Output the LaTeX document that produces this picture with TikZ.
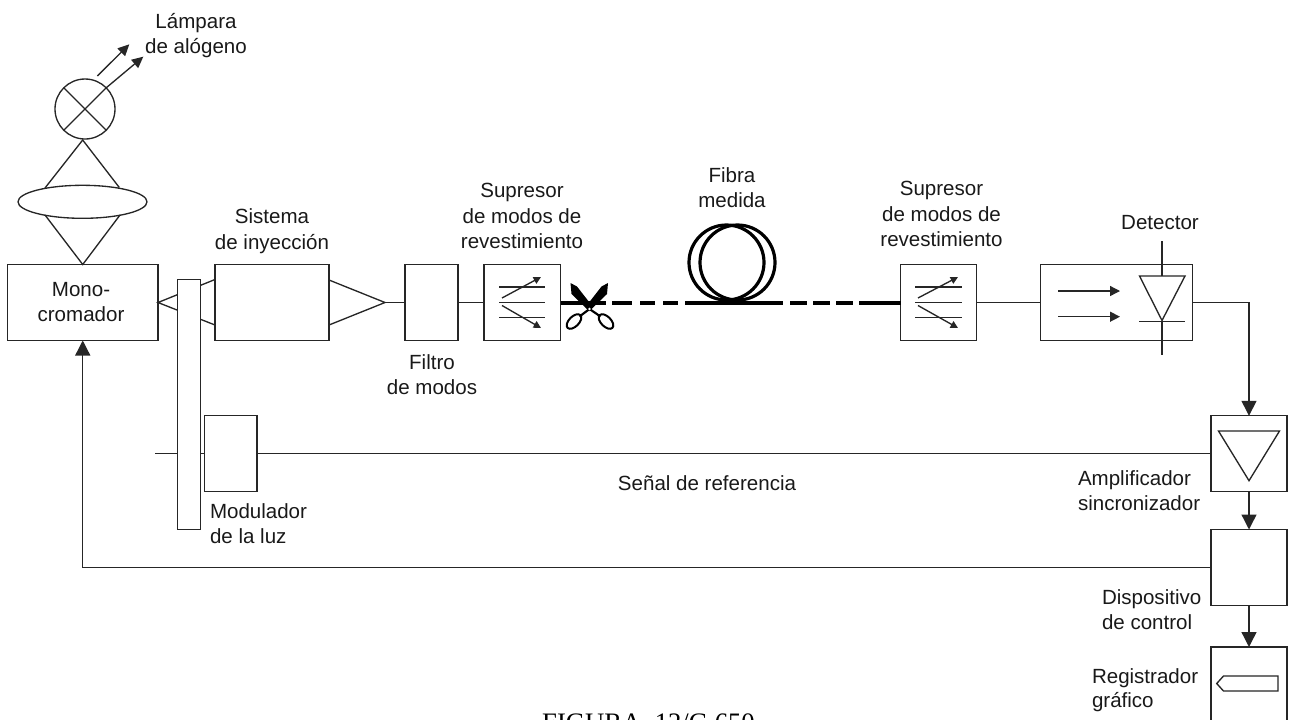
\documentclass[tikz,border=0pt]{standalone}
\usepackage{fontspec}
\setmainfont{Liberation Sans}
\newfontfamily\capfont{Liberation Serif}
\usetikzlibrary{arrows.meta,shapes.geometric}
\newcommand{\pxu}{0.75pt}
\tikzset{
  ln/.style={line width=1pt,black!85},
  boxn/.style 2 args={draw,ln,fill=white,rectangle,inner sep=0pt,outer sep=0pt,minimum width=#1*\pxu,minimum height=#2*\pxu},
  lbl/.style={inner sep=0pt,outer sep=0pt,font=\fontsize{15.4pt}{18.75pt}\selectfont,text=black!90},
  big/.style={ln,-{Triangle[length=11.25pt,width=11.25pt]}},
  mid/.style={ln,-{Triangle[length=8.5pt,width=8pt]}},
  small/.style={ln,-{Triangle[length=5.5pt,width=5.5pt]}},
  fibre/.style={line width=3pt,black},
  coilr/.style={line width=2.4pt,black},
}
\begin{document}
\begin{tikzpicture}[x=0.75pt,y=-0.75pt]
\useasboundingbox (0,0) rectangle (1292,719);
\clip (0,0) rectangle (1292,719);
% boxes
\node[boxn={150.5}{76}] (mono) at (82.75,302.5) {};
\node[boxn={114}{76}] (sis) at (272,302.5) {};
\node[boxn={53}{76}] (fil) at (431.5,302.5) {};
\node[boxn={76.5}{76}] (sup1) at (522.25,302.5) {};
\node[boxn={75.5}{76}] (sup2) at (938.5,302.5) {};
\node[boxn={152}{76}] (det) at (1116.7,302.5) {};
\node[boxn={76}{76}] (amp) at (1249,453.8) {};
\node[boxn={76}{76}] (ctrl) at (1249,567.5) {};
\node[boxn={76}{76}] (rec) at (1249,685) {};
\node[boxn={52.5}{76}] (mod) at (230.75,453.8) {};
% lamp and lens
\node[draw,ln,circle,inner sep=0pt,outer sep=0pt,minimum size=60*\pxu] (lamp) at (85,109) {};
\node[draw,ln,ellipse,inner sep=0pt,outer sep=0pt,minimum width=129*\pxu,minimum height=33*\pxu] (lens) at (82.5,201.8) {};
\draw[ln] (lamp.45) -- (lamp.225);
\draw[ln] (lamp.135) -- (lamp.315);
\coordinate (a1s) at (97.3,76); \coordinate (a1e) at (129.3,44.3);
\coordinate (a2e) at (143.3,56.7);
\draw[mid] (a1s) -- (a1e);
\draw[mid] (lamp.45) -- (a2e);
\coordinate (ap1) at (82.7,140);
\coordinate (tl) at (45,188); \coordinate (tr) at (119.3,187.5);
\coordinate (bl) at (45,215); \coordinate (br) at (120,215);
\draw[ln] (tl) -- (ap1) -- (tr);
\draw[ln] (bl) -- (mono.north) -- (br);
% mono to injection, behind chopper
\draw[ln] (sis.north west |- 0,279.5) -- (mono.east) -- (sis.south west |- 0,325);
% injection cone
\coordinate (ap2) at (385,302.5);
\draw[ln] (sis.north east |- 0,280) -- (ap2) -- (sis.south east |- 0,325);
\draw[ln] (ap2) -- (fil.west);
\draw[ln] (fil.east) -- (sup1.west);
\draw[ln] (sup2.east) -- (det.west);
% reference line and feedback
\coordinate (refs) at (155,453.8);
\draw[ln] (refs) -- (mod.west);
\draw[ln] (mod.east) -- (amp.west);
\node[boxn={23}{250}] (bar) at (189,404.5) {};
\draw[big] (ctrl.west) -| (mono.south);
\draw[big] (det.east) -| (amp.north);
\draw[big] (amp.south) -- (ctrl.north);
\draw[big] (ctrl.south) -- (rec.north);
% mode strippers
\foreach \n/\xa/\xb/\xs/\xt in {sup1/499/545/502/541,sup2/915/961.5/918/958}{
  \draw[ln] (\xa,287) -- (\xb,287);
  \draw[ln] (\xa,302.5) -- (\xb,302.5);
  \draw[ln] (\xa,317.7) -- (\xb,317.7);
  \draw[small] (\xs,298) -- (\xt,277);
  \draw[small] (\xs,305.5) -- (\xt,328);
}
% fibre
\coordinate (f1) at (606,302.5); \coordinate (f2) at (685,302.5);
\coordinate (f3) at (783,302.5); \coordinate (f4) at (859,302.5);
\draw[fibre] (sup1.east) -- (f1);
\draw[fibre] (612,302.5) -- (632,302.5);
\draw[fibre] (640,302.5) -- (655,302.5);
\draw[fibre] (663,302.5) -- (678,302.5);
\draw[fibre] (f2) -- (f3);
\draw[fibre] (790,302.5) -- (807,302.5);
\draw[fibre] (813,302.5) -- (829.5,302.5);
\draw[fibre] (836,302.5) -- (852.5,302.5);
\draw[fibre] (f4) -- (sup2.west);
\node[draw,coilr,circle,inner sep=0pt,outer sep=0pt,minimum size=75*\pxu] (c1) at (726.5,262.5) {};
\node[draw,coilr,circle,inner sep=0pt,outer sep=0pt,minimum size=75*\pxu] (c2) at (737.5,262.5) {};
% scissors
\fill[black] (570.5,283) -- (577,286.5) -- (593,307) -- (589,311) -- (571.5,294) -- cycle;
\fill[black] (608,283) -- (601.5,286.5) -- (585.5,307) -- (589.5,311) -- (607,294) -- cycle;
\draw[line width=1.5pt,black,rotate around={45:(574,321.5)}] (574,321.5) ellipse (9 and 5);
\draw[line width=1.5pt,black,rotate around={-45:(606,321.5)}] (606,321.5) ellipse (9 and 5);
\draw[line width=1.6pt,black] (589.5,309) -- (600.5,316.5);
\draw[line width=1.6pt,black] (589.5,309) -- (579.5,316.5);
\fill[white] (589.5,309) circle (1.3);
% detector
\coordinate (dt) at (1162,241); \coordinate (db) at (1162,355);
\coordinate (dl) at (1139.5,276); \coordinate (dr) at (1185,276); \coordinate (da) at (1162,320.5);
\draw[ln] (dt) -- (1162,276);
\draw[ln] (dl) -- (dr) -- (da) -- cycle;
\draw[ln] (1139,321.5) -- (1185,321.5);
\draw[ln] (1162,321.5) -- (db);
\coordinate (r1s) at (1058,291); \coordinate (r1e) at (1120,291);
\coordinate (r2s) at (1058,316.7); \coordinate (r2e) at (1120,316.7);
\draw[ln,-{Triangle[length=7.5pt,width=7.5pt]}] (r1s) -- (r1e);
\draw[ln,-{Triangle[length=7.5pt,width=7.5pt]}] (r2s) -- (r2e);
% amplifier symbol
\draw[ln] (1218.5,431) -- (1279.5,431) -- (1249,480.7) -- cycle;
% pen
\draw[ln] (1216.7,683.5) -- (1223.5,676) -- (1278,676) -- (1278,691) -- (1223.5,691) -- cycle;
% labels
\node[lbl,anchor=base] (t1) at (196,28) {Lámpara};
\node[lbl,anchor=base] (t2) at (196,53.5) {de alógeno};
\node[lbl,anchor=base] (t3) at (272,223) {Sistema};
\node[lbl,anchor=base] (t4) at (272,249) {de inyección};
\node[lbl,anchor=base] (t5) at (81,296) {Mono-};
\node[lbl,anchor=base] (t6) at (81,321) {cromador};
\node[lbl,anchor=base] (t7) at (522,197.5) {Supresor};
\node[lbl,anchor=base] (t8) at (522,223) {de modos de};
\node[lbl,anchor=base] (t9) at (522,248) {revestimiento};
\node[lbl,anchor=base] (t10) at (732,182) {Fibra};
\node[lbl,anchor=base] (t11) at (732,207) {medida};
\node[lbl,anchor=base] (t12) at (941.5,195.5) {Supresor};
\node[lbl,anchor=base] (t13) at (941.5,221) {de modos de};
\node[lbl,anchor=base] (t14) at (941.5,246) {revestimiento};
\node[lbl,anchor=base] (t15) at (1160,229) {Detector};
\node[lbl,anchor=base] (t16) at (432,369) {Filtro};
\node[lbl,anchor=base] (t17) at (432,394) {de modos};
\node[lbl,anchor=base west] (t18) at (210,518) {Modulador};
\node[lbl,anchor=base west] (t19) at (210,543) {de la luz};
\node[lbl,anchor=base] (t20) at (707,490) {Señal de referencia};
\node[lbl,anchor=base west] (t21) at (1078,485) {Amplificador};
\node[lbl,anchor=base west] (t22) at (1078,510) {sincronizador};
\node[lbl,anchor=base west] (t23) at (1102,604) {Dispositivo};
\node[lbl,anchor=base west] (t24) at (1102,629) {de control};
\node[lbl,anchor=base west] (t25) at (1092,683) {Registrador};
\node[lbl,anchor=base west] (t26) at (1092,707) {gráfico};
\node[inner sep=0pt,outer sep=0pt,anchor=base,font=\capfont\fontsize{20pt}{24pt}\selectfont] (cap) at (648.5,731) {FIGURA\ \ 12/G.650};
\end{tikzpicture}
\end{document}
